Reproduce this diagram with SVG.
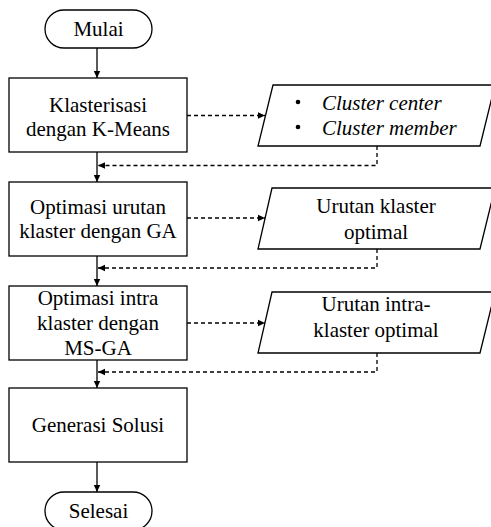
<svg xmlns="http://www.w3.org/2000/svg" width="491" height="527" viewBox="0 0 491 527">
<defs>
<marker id="ah" markerWidth="8" markerHeight="8" refX="7" refY="4" orient="auto" markerUnits="userSpaceOnUse">
<path d="M0,0.8 L7,4 L0,7.2 Z" fill="#000"/>
</marker>
</defs>
<style>
.n{fill:#fff;stroke:#000;stroke-width:1.3}
.t{font-family:'Liberation Serif','Times New Roman',serif;font-size:21px;fill:#000;text-anchor:middle}
.i{font-style:italic;text-anchor:start}
.s{fill:none;stroke:#000;stroke-width:1.3}
.d{fill:none;stroke:#000;stroke-width:1.3;stroke-dasharray:4 3}
</style>
<rect width="491" height="527" fill="#fff"/>
<g id="connectors">
<line class="s" x1="97" y1="48" x2="97" y2="78" marker-end="url(#ah)"/>
<line class="s" x1="97" y1="152" x2="97" y2="182" marker-end="url(#ah)"/>
<line class="s" x1="97" y1="256" x2="97" y2="286" marker-end="url(#ah)"/>
<line class="s" x1="97" y1="360" x2="97" y2="388" marker-end="url(#ah)"/>
<line class="s" x1="97" y1="462" x2="97" y2="492" marker-end="url(#ah)"/>
<line class="d" x1="187" y1="115.5" x2="265" y2="115.5" marker-end="url(#ah)"/>
<polyline class="d" points="377,146 377,165.5 98,165.5" marker-end="url(#ah)"/>
<line class="d" x1="187" y1="218" x2="265" y2="218" marker-end="url(#ah)"/>
<polyline class="d" points="377,249 377,268 98,268" marker-end="url(#ah)"/>
<line class="d" x1="187" y1="323" x2="265" y2="323" marker-end="url(#ah)"/>
<polyline class="d" points="377,353 377,372 98,372" marker-end="url(#ah)"/>
</g>
<g id="mulai">
<rect class="n" x="45" y="10" width="107" height="38" rx="19"/>
<text class="t" x="98.5" y="36">Mulai</text>
</g>
<g id="kmeans">
<rect class="n" x="9" y="78" width="178" height="74"/>
<text class="t" x="98" y="112">Klasterisasi</text>
<text class="t" x="98" y="136">dengan K-Means</text>
</g>
<g id="out1">
<polygon class="n" points="273,85 495,85 480,146 258,146"/>
<circle cx="298" cy="102" r="2.3" fill="#000"/>
<circle cx="298" cy="127" r="2.3" fill="#000"/>
<text class="t i" x="322" y="110">Cluster center</text>
<text class="t i" x="322" y="135">Cluster member</text>
</g>
<g id="ga">
<rect class="n" x="9" y="182" width="178" height="74"/>
<text class="t" x="98" y="214">Optimasi urutan</text>
<text class="t" x="98" y="238">klaster dengan GA</text>
</g>
<g id="out2">
<polygon class="n" points="272,188 495,188 480,249 258,249"/>
<text class="t" x="376" y="213">Urutan klaster</text>
<text class="t" x="376" y="239">optimal</text>
</g>
<g id="msga">
<rect class="n" x="9" y="286" width="178" height="74"/>
<text class="t" x="98" y="305">Optimasi intra</text>
<text class="t" x="98" y="330">klaster dengan</text>
<text class="t" x="98" y="355">MS-GA</text>
</g>
<g id="out3">
<polygon class="n" points="272,292 495,292 480,353 258,353"/>
<text class="t" x="376" y="311">Urutan intra-</text>
<text class="t" x="376" y="337">klaster optimal</text>
</g>
<g id="generasi">
<rect class="n" x="9" y="388" width="178" height="74"/>
<text class="t" x="98" y="432">Generasi Solusi</text>
</g>
<g id="selesai">
<rect class="n" x="45" y="492" width="107" height="38" rx="19"/>
<text class="t" x="98.5" y="518">Selesai</text>
</g>
</svg>
